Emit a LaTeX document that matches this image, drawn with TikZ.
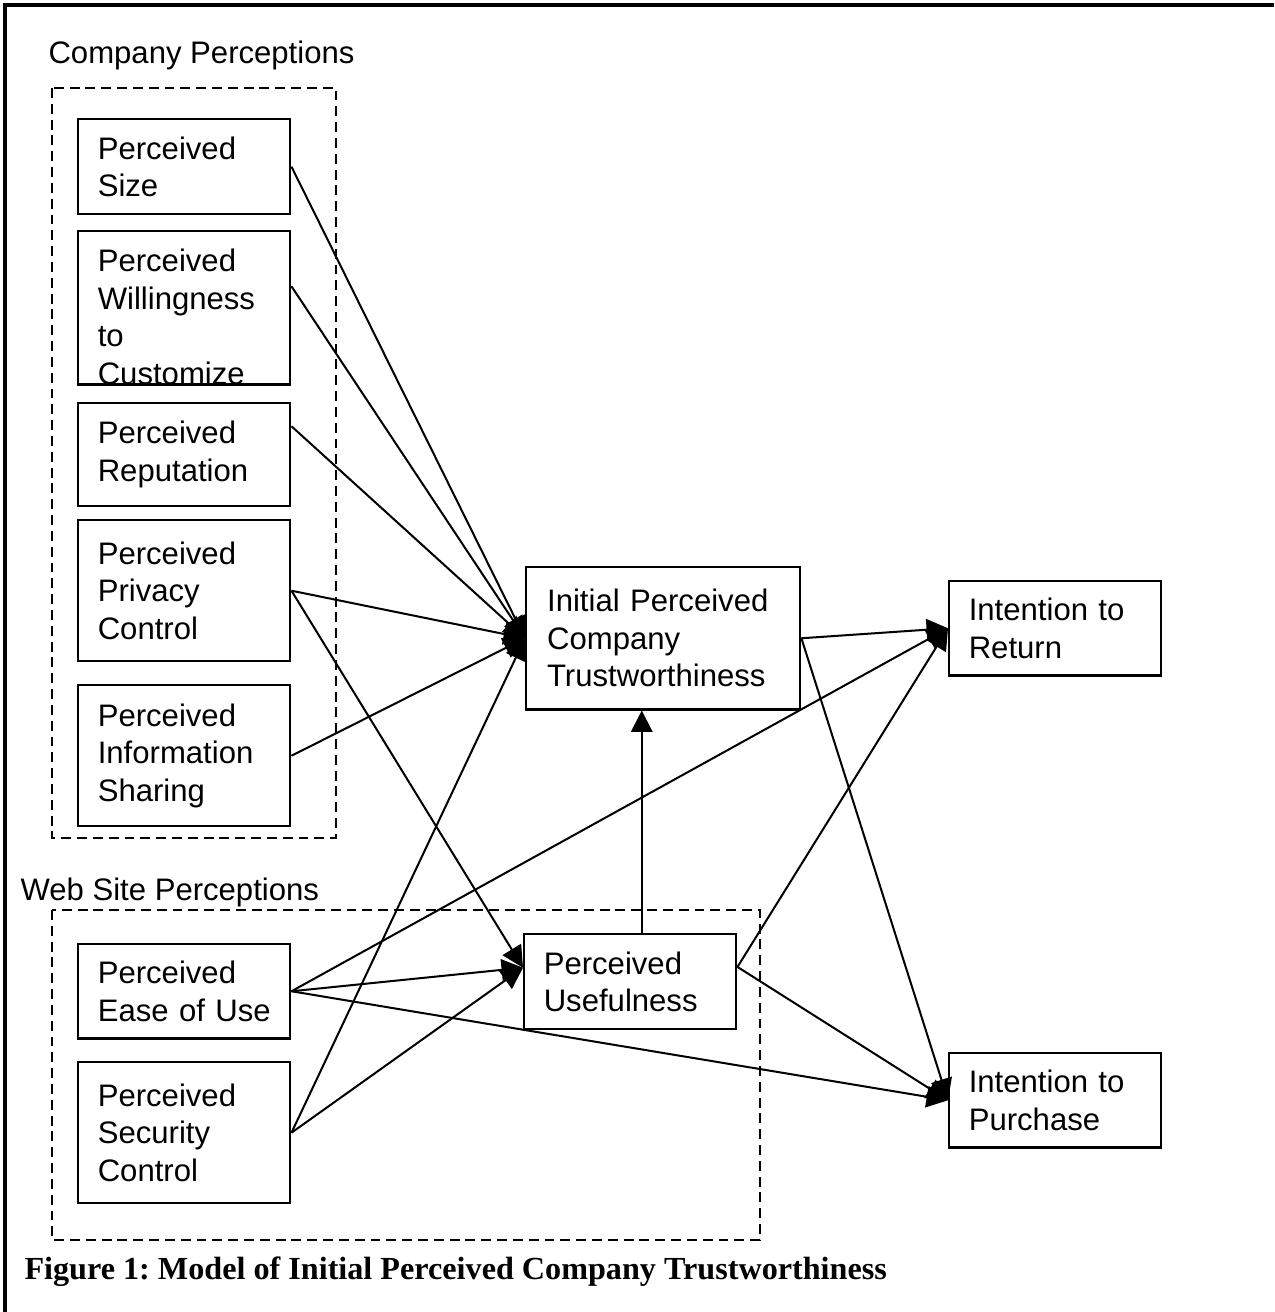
\documentclass[tikz,border=0pt]{standalone}
\usepackage{fontspec}
\setmainfont{Liberation Sans}
\newfontfamily\captionfont{Liberation Serif}
\usetikzlibrary{arrows.meta}
\frenchspacing

\begin{document}
\begin{tikzpicture}[x=0.373pt, y=-0.373pt,
		factor/.style={draw=black, line width=0.9pt, anchor=north west, inner ysep=0pt, minimum width=79.1pt, text width=64.5pt, align=left, font=\fontsize{11.6}{14}\selectfont},
		link/.style={draw=black, line width=0.75pt, -{Triangle[length=8pt,width=8pt]}},
		group/.style={draw=black, line width=0.85pt, dash pattern=on 3.7pt off 2.2pt},
		grouplabel/.style={anchor=west, inner sep=0pt, font=\fontsize{11.6}{14}\selectfont}]
		\useasboundingbox (0,0) rectangle (1274,1312);
		\draw[draw=black, line width=1.3pt] (1274,5) -- (5,5) -- (5,1312);
		% groups
		\draw[group] (52,88) rectangle (336,838);
		\draw[group] (52,910) rectangle (760,1240);
		\node[grouplabel] (complbl) at (48,55) {Company Perceptions};
		\node[grouplabel] (weblbl) at (20,892) {Web Site Perceptions};
		% company factors
		\node[factor, minimum height=35.4pt] (size) at (77,118) {Perceived\\Size};
		\node[factor, minimum height=57.1pt, text height=15.1pt, text depth=42pt] (will) at (77,230) {Perceived\\Willingness\\to\\Customize};
		\node[factor, minimum height=38.4pt] (rep) at (77,402) {Perceived\\Reputation};
		\node[factor, minimum height=52.6pt] (priv) at (77,519) {Perceived\\Privacy\\Control};
		\node[factor, minimum height=52.6pt] (info) at (77,684) {Perceived\\Information\\Sharing};
		% web site factors
		\node[factor, minimum height=35.1pt] (ease) at (77,943) {Perceived\\Ease of Use};
		\node[factor, minimum height=52.6pt] (sec) at (77,1061) {Perceived\\Security\\Control};
		% outcomes
		\node[factor, minimum height=53pt, minimum width=102.2pt, text width=86.6pt] (ipct) at (525,566) {Initial Perceived\\Company\\Trustworthiness};
		\node[factor, minimum height=35.4pt] (use) at (523,933) {Perceived\\Usefulness};
		\node[factor, minimum height=35.1pt] (ret) at (948,580) {Intention to\\Return};
		\node[factor, minimum height=35.1pt] (pur) at (948,1052) {Intention to\\Purchase};
		% links into trustworthiness
		\draw[link] (size.east) -- (ipct.west);
		\draw[link] ([yshift=8pt]will.east) -- (ipct.west);
		\draw[link] ([yshift=10.6pt]rep.east) -- (ipct.west);
		\draw[link] (priv.east) -- (ipct.west);
		\draw[link] (info.east) -- (ipct.west);
		\draw[link] (sec.east) -- (ipct.west);
		\draw[link] ([xshift=4.3pt]use.north) -- ([xshift=4.3pt]use.north |- ipct.south);
		% links into usefulness
		\draw[link] (priv.east) -- ([yshift=5.2pt]use.west);
		\draw[link] (ease.east) -- ([yshift=5.2pt]use.west);
		\draw[link] (sec.east) -- ([yshift=5.2pt]use.west);
		% links into intentions
		\draw[link] (ease.east) -- (ret.west);
		\draw[link] (ease.east) -- (pur.west);
		\draw[link] ([yshift=5.5pt]use.east) -- (ret.west);
		\draw[link] ([yshift=5.5pt]use.east) -- (pur.west);
		\draw[link] (ipct.east) -- (ret.west);
		\draw[link] (ipct.east) -- (pur.west);
		\node[anchor=west, inner sep=0pt, font=\captionfont\bfseries\fontsize{12}{14}\selectfont] (caption) at (24,1272) {Figure 1: Model of Initial Perceived Company Trustworthiness};
	\end{tikzpicture}
\end{document}
